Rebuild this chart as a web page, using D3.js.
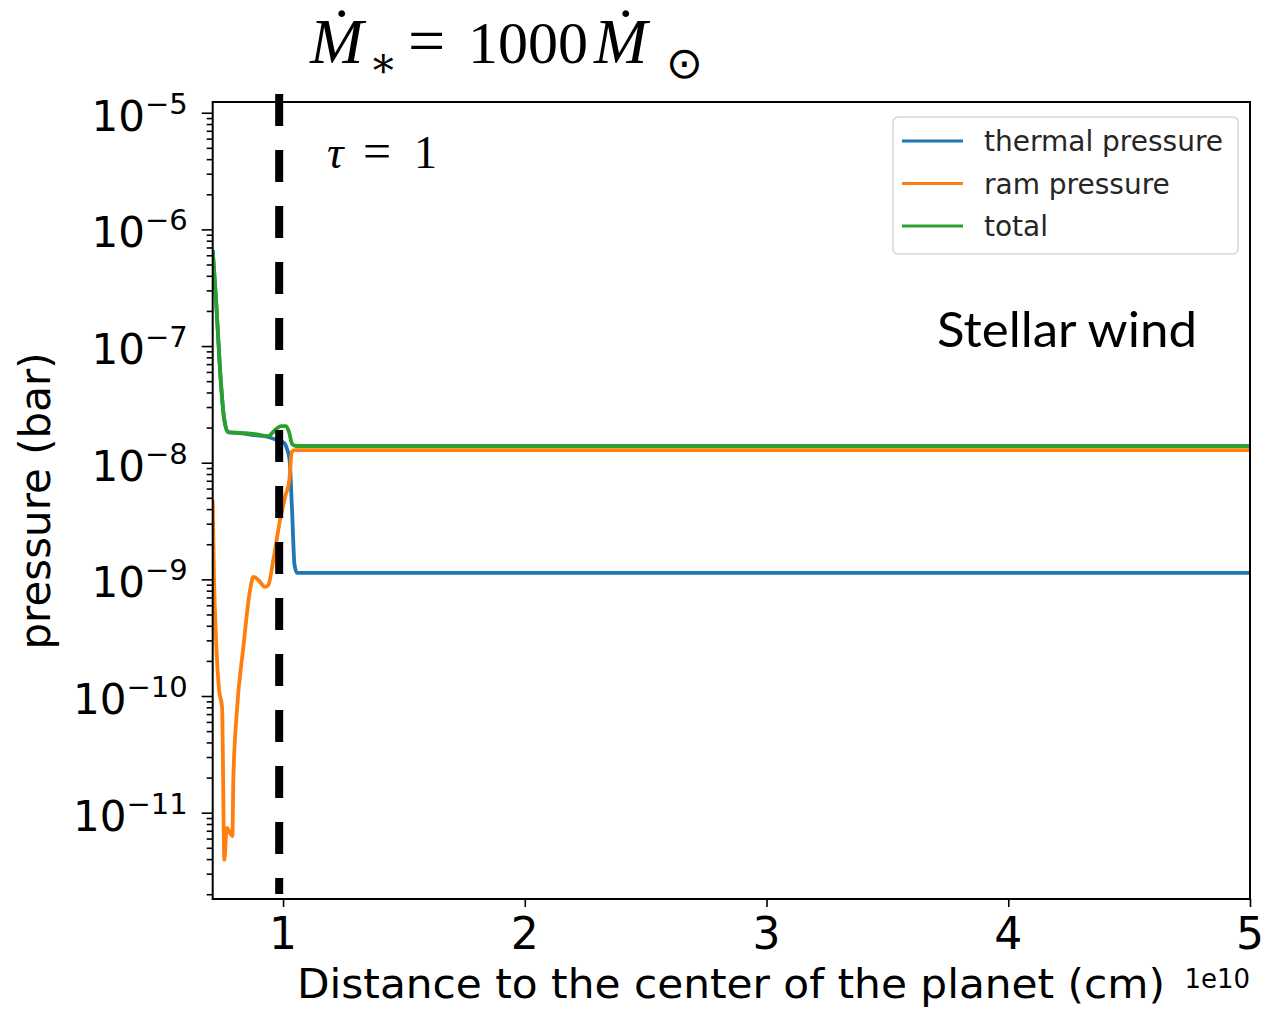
<!DOCTYPE html>
<html>
<head>
<meta charset="utf-8">
<script src="https://cdn.jsdelivr.net/npm/d3@7"></script>
<style>
  html, body { margin: 0; padding: 0; background: #fff; }
  svg { display: block; }
</style>
</head>
<body>
<svg id="chart" width="1263" height="1009"></svg>
<script>
// Pressure profiles along the distance to the planet centre (cm) for a stellar
// mass-loss rate of 1000 solar: thermal, ram and total pressure (bar).
const thermalDistance = [0.709e10, 0.7229e10, 0.7394e10, 0.756e10, 0.7725e10, 0.8222e10, 0.8842e10, 0.938e10,
  0.9752e10, 1.0041e10, 1.0165e10, 1.0269e10, 1.0372e10, 1.0475e10, 1.0579e10, 5.0e10];
const thermalPressure = [6.63e-7, 2.48e-7, 6.23e-8, 2.41e-8, 1.83e-8, 1.79e-8, 1.72e-8, 1.66e-8,
  1.56e-8, 1.48e-8, 1.31e-8, 1.06e-8, 3.94e-9, 1.33e-9, 1.135e-9, 1.135e-9];

const ramDistance = [0.709e10, 0.7146e10, 0.7229e10, 0.7353e10, 0.7477e10, 0.7572e10, 0.7671e10, 0.7808e10,
  0.7903e10, 0.7944e10, 0.8085e10, 0.8358e10, 0.8635e10, 0.8771e10, 0.8978e10, 0.9255e10, 0.9392e10,
  0.9599e10, 0.9876e10, 1.0083e10, 1.0261e10, 1.036e10, 1.0496e10, 5.0e10];
const ramPressure = [4.79e-9, 9.89e-10, 3.02e-10, 1.13e-10, 8.05e-11, 3.94e-12, 7.40e-12, 6.70e-12,
  6.31e-12, 1.91e-11, 7.16e-11, 2.63e-10, 8.09e-10, 1.05e-9, 9.89e-10, 8.61e-10, 8.95e-10,
  1.47e-9, 3.23e-9, 5.08e-9, 7.11e-9, 1.24e-8, 1.28e-8, 1.28e-8];

const totalDistance = [0.709e10, 0.7229e10, 0.7394e10, 0.756e10, 0.7725e10, 0.8222e10, 0.8842e10, 0.938e10,
  0.967e10, 0.9917e10, 1.0124e10, 1.0248e10, 1.0372e10, 1.0538e10, 5.0e10];
const totalPressure = [6.63e-7, 2.48e-7, 6.23e-8, 2.41e-8, 1.83e-8, 1.80e-8, 1.76e-8, 1.69e-8,
  1.91e-8, 2.06e-8, 2.06e-8, 1.83e-8, 1.45e-8, 1.39e-8, 1.39e-8];

const seriesNames = ["thermal pressure", "ram pressure", "total"];
const seriesColors = ["#1f77b4", "#ff7f0e", "#2ca02c"];

const xTicks = [1e10, 2e10, 3e10, 4e10, 5e10];
const xTickLabels = ["1", "2", "3", "4", "5"];
const yTickExponents = [-5, -6, -7, -8, -9, -10, -11];

const tauOneDistance = 0.984e10;

const xDomain = [0.709e10, 5.0e10];
const yDomain = [Math.pow(10, -11.74), Math.pow(10, -4.908)];

// ---- layout ----
const svg = d3.select("#chart");
const plot = { left: 212.7, right: 1250, top: 102, bottom: 899 };

const x = d3.scaleLinear().domain(xDomain).range([plot.left, plot.right]);
const y = d3.scaleLog().domain(yDomain).range([plot.bottom, plot.top]);

const sans = "'DejaVu Sans', sans-serif";
const serif = "'Liberation Serif', 'DejaVu Serif', serif";

// ---- clip for data lines ----
svg.append("defs").append("clipPath").attr("id", "plotClip")
  .append("rect")
  .attr("x", plot.left).attr("y", plot.top)
  .attr("width", plot.right - plot.left).attr("height", plot.bottom - plot.top);

// ---- data lines ----
const series = [
  { name: seriesNames[0], color: seriesColors[0], xs: thermalDistance, ys: thermalPressure },
  { name: seriesNames[1], color: seriesColors[1], xs: ramDistance, ys: ramPressure },
  { name: seriesNames[2], color: seriesColors[2], xs: totalDistance, ys: totalPressure }
];

const line = d3.line()
  .x(d => x(d[0]))
  .y(d => y(d[1]))
  .curve(d3.curveMonotoneX);

const lines = svg.append("g").attr("clip-path", "url(#plotClip)");
series.forEach(s => {
  lines.append("path")
    .datum(s.xs.map((v, i) => [v, s.ys[i]]))
    .attr("fill", "none")
    .attr("stroke", s.color)
    .attr("stroke-width", 3.8)
    .attr("stroke-linejoin", "round")
    .attr("d", line);
});

// ---- axes ----
const yMinorTicks = [];
for (let e = -12; e <= -5; e++) {
  for (let m = 2; m <= 9; m++) {
    const v = m * Math.pow(10, e);
    if (v >= yDomain[0] && v <= yDomain[1]) yMinorTicks.push(v);
  }
}

const yAxisG = svg.append("g").attr("transform", `translate(${plot.left},0)`);
yAxisG.call(d3.axisLeft(y).tickValues(yMinorTicks).tickSize(6).tickFormat(""));
yAxisG.call(g => g.select(".domain").remove());
const yMajorG = svg.append("g").attr("transform", `translate(${plot.left},0)`);
yMajorG.call(d3.axisLeft(y).tickValues(yTickExponents.map(e => Math.pow(10, e))).tickSize(11).tickFormat(""));
yMajorG.call(g => g.select(".domain").remove());
svg.selectAll(".tick line").attr("stroke", "#000").attr("stroke-width", 1.6);

const xAxisG = svg.append("g").attr("transform", `translate(0,${plot.bottom})`);
xAxisG.call(d3.axisBottom(x).tickValues(xTicks).tickSize(8).tickFormat(""));
xAxisG.call(g => g.select(".domain").remove());
xAxisG.selectAll(".tick line").attr("stroke", "#000").attr("stroke-width", 1.6);

// y tick labels: 10 with a superscript exponent
yTickExponents.forEach(e => {
  const t = svg.append("text")
    .attr("x", plot.left - 25)
    .attr("y", y(Math.pow(10, e)) + 18)
    .attr("text-anchor", "end")
    .attr("font-family", sans)
    .attr("font-size", 42)
    .attr("fill", "#000");
  t.append("tspan").text("10");
  t.append("tspan").attr("dy", -17).attr("font-size", 29).text("\u2212" + Math.abs(e));
});

// x tick labels
xTicks.forEach((v, i) => {
  svg.append("text")
    .attr("x", x(v))
    .attr("y", 949)
    .attr("text-anchor", "middle")
    .attr("font-family", sans)
    .attr("font-size", 44)
    .attr("fill", "#000")
    .text(xTickLabels[i]);
});

// frame
svg.append("rect")
  .attr("x", plot.left).attr("y", plot.top)
  .attr("width", plot.right - plot.left).attr("height", plot.bottom - plot.top)
  .attr("fill", "none").attr("stroke", "#000").attr("stroke-width", 2);

// axis titles
svg.append("text")
  .attr("x", 731).attr("y", 998)
  .attr("text-anchor", "middle")
  .attr("font-family", sans).attr("font-size", 41).attr("fill", "#000")
  .attr("textLength", 868).attr("lengthAdjust", "spacingAndGlyphs")
  .text("Distance to the center of the planet (cm)");

svg.append("text")
  .attr("x", plot.right).attr("y", 988)
  .attr("text-anchor", "end")
  .attr("font-family", sans).attr("font-size", 26).attr("fill", "#000")
  .text("1e10");

svg.append("text")
  .attr("transform", "translate(50,501) rotate(-90)")
  .attr("text-anchor", "middle")
  .attr("font-family", sans).attr("font-size", 42).attr("fill", "#000")
  .text("pressure (bar)");

// ---- tau = 1 marker ----
svg.append("line")
  .attr("x1", x(tauOneDistance)).attr("x2", x(tauOneDistance))
  .attr("y1", plot.top - 8).attr("y2", plot.bottom - 5)
  .attr("stroke", "#000").attr("stroke-width", 8)
  .attr("stroke-dasharray", "32 24");

const tau = svg.append("text")
  .attr("x", 327).attr("y", 168)
  .attr("font-family", serif).attr("font-size", 46).attr("fill", "#000");
tau.append("tspan").attr("font-style", "italic").text("\u03C4");
tau.append("tspan").attr("x", 363).attr("font-size", 50).text("=");
tau.append("tspan").attr("x", 414).text("1");

// ---- title ----
const title = svg.append("text")
  .attr("x", 310).attr("y", 63)
  .attr("font-family", serif).attr("font-size", 60).attr("fill", "#000");
title.append("tspan").attr("font-style", "italic").attr("font-size", 64).text("\u1E40");
title.append("tspan").attr("x", 369).attr("dy", 14).attr("font-size", 42).text("\u2217");
title.append("tspan").attr("x", 408).attr("dy", -14).attr("font-size", 66).text("=");
title.append("tspan").attr("x", 468).text("1000");
title.append("tspan").attr("x", 594).attr("font-style", "italic").attr("font-size", 64).text("\u1E40");
title.append("tspan").attr("x", 666).attr("dy", 15).attr("font-family", sans).attr("font-size", 44).text("\u2299");

// ---- annotation ----
svg.append("text")
  .attr("x", 937).attr("y", 347)
  .attr("font-family", "Lato, sans-serif").attr("font-size", 48).attr("fill", "#000")
  .attr("textLength", 260).attr("lengthAdjust", "spacingAndGlyphs")
  .text("Stellar wind");

// ---- legend ----
const legend = svg.append("g");
legend.append("rect")
  .attr("x", 893).attr("y", 117).attr("width", 345).attr("height", 137)
  .attr("rx", 5).attr("fill", "#fff").attr("fill-opacity", 0.8)
  .attr("stroke", "#d6d6d6").attr("stroke-width", 1.5);
series.forEach((s, i) => {
  const ly = 141 + i * 42.5;
  legend.append("line")
    .attr("x1", 902).attr("x2", 963).attr("y1", ly).attr("y2", ly)
    .attr("stroke", s.color).attr("stroke-width", 3.2);
  legend.append("text")
    .attr("x", 984).attr("y", ly + 10)
    .attr("font-family", sans).attr("font-size", 28).attr("fill", "#262626")
    .text(s.name);
});
</script>
</body>
</html>
